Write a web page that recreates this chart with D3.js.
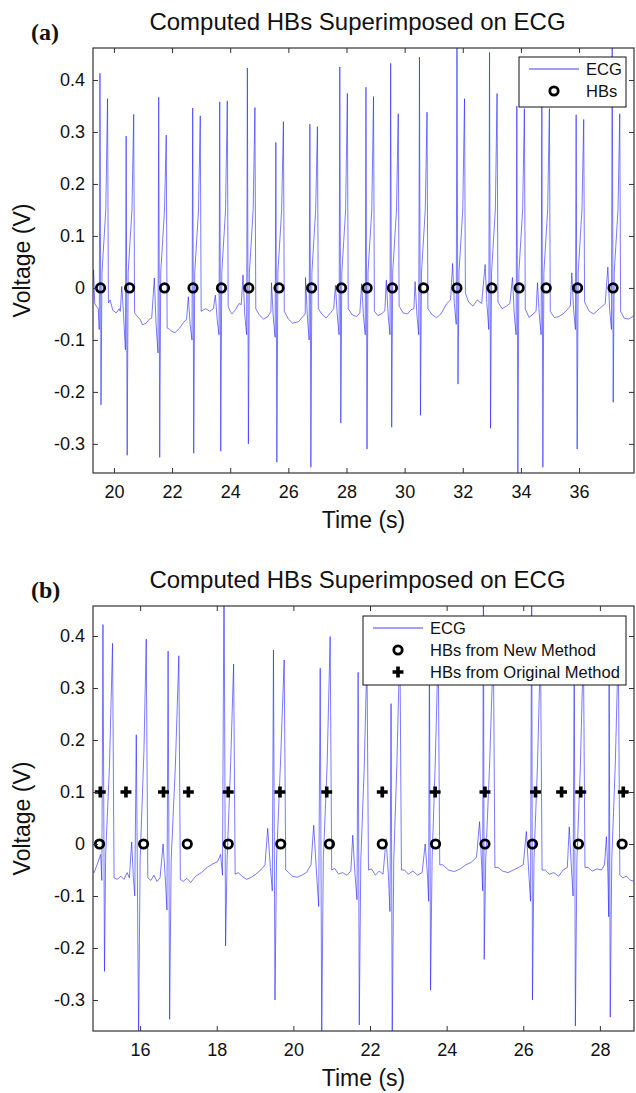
<!DOCTYPE html>
<html>
<head>
<meta charset="utf-8">
<script src="https://cdn.jsdelivr.net/npm/d3@7/dist/d3.min.js"></script>
<style>
  body { margin: 0; background: #fff; }
</style>
</head>
<body>
<div id="chart"></div>
<script>
// -----------------------------------------
//DATA
// -----------------------------------------
var yTicks = [-0.3, -0.2, -0.1, 0, 0.1, 0.2, 0.3, 0.4];
var xTicksA = [20, 22, 24, 26, 28, 30, 32, 34, 36];
var xTicksB = [16, 18, 20, 22, 24, 26, 28];

//panel (a) ECG trace, [time (s), voltage (V)]
var ecgA = [
  [19.20,-0.040],[19.26,-0.030],[19.30,0.035],[19.34,-0.030],[19.40,-0.036],[19.46,-0.040],
  [19.495,-0.080],[19.52,0.413],[19.555,-0.225],[19.59,0.030],[19.72,0.150],[19.78,0.364],[19.81,-0.029],[19.87,-0.023],[19.96,-0.043],[20.08,-0.048],[20.18,-0.040],[20.22,-0.045],
  [20.27,0.003],[20.33,-0.050],[20.395,-0.119],[20.42,0.292],[20.455,-0.322],[20.49,0.030],[20.62,0.150],[20.68,0.334],[20.71,-0.048],[20.80,-0.055],[20.90,-0.060],[20.98,-0.071],[21.10,-0.068],[21.22,-0.060],[21.30,-0.058],
  [21.39,0.019],[21.45,-0.070],[21.515,-0.125],[21.54,0.367],[21.575,-0.326],[21.61,0.030],[21.74,0.150],[21.80,0.294],[21.83,-0.077],[21.92,-0.080],[22.00,-0.084],[22.10,-0.086],[22.25,-0.078],[22.40,-0.066],[22.50,-0.060],
  [22.56,-0.017],[22.62,-0.070],[22.685,-0.100],[22.71,0.346],[22.745,-0.318],[22.78,0.030],[22.91,0.150],[22.97,0.331],[23.00,-0.045],[23.08,-0.042],[23.15,-0.040],[23.30,-0.045],[23.42,-0.040],
  [23.49,-0.014],[23.55,-0.060],[23.615,-0.090],[23.64,0.358],[23.675,-0.314],[23.71,0.030],[23.84,0.150],[23.90,0.360],[23.93,-0.036],[24.00,-0.045],[24.06,-0.050],[24.18,-0.042],[24.30,-0.030],[24.38,-0.032],
  [24.44,0.025],[24.50,-0.050],[24.565,-0.090],[24.59,0.423],[24.625,-0.300],[24.66,0.030],[24.79,0.150],[24.85,0.347],[24.88,-0.040],[25.00,-0.052],[25.15,-0.060],[25.30,-0.055],[25.40,-0.045],
  [25.42,0.010],[25.48,-0.055],[25.545,-0.095],[25.57,0.280],[25.605,-0.335],[25.64,0.030],[25.77,0.150],[25.83,0.320],[25.86,-0.045],[26.00,-0.060],[26.15,-0.068],[26.35,-0.065],[26.50,-0.055],[26.58,-0.050],
  [26.59,0.020],[26.65,-0.050],[26.715,-0.100],[26.74,0.315],[26.775,-0.345],[26.81,0.030],[26.94,0.150],[27.00,0.310],[27.03,-0.040],[27.15,-0.050],[27.30,-0.058],[27.45,-0.048],[27.56,-0.040],
  [27.62,0.005],[27.68,-0.050],[27.745,-0.090],[27.77,0.425],[27.805,-0.260],[27.84,0.030],[27.97,0.150],[28.03,0.374],[28.06,-0.040],[28.20,-0.052],[28.35,-0.055],[28.46,-0.048],
  [28.52,0.008],[28.58,-0.050],[28.645,-0.090],[28.67,0.386],[28.705,-0.310],[28.74,0.030],[28.87,0.150],[28.93,0.368],[28.96,-0.045],[29.08,-0.053],[29.20,-0.050],[29.32,-0.044],
  [29.37,0.015],[29.43,-0.050],[29.495,-0.090],[29.52,0.432],[29.555,-0.268],[29.59,0.030],[29.72,0.150],[29.78,0.335],[29.81,-0.035],[29.95,-0.048],[30.10,-0.050],[30.22,-0.042],[30.32,-0.040],
  [30.36,0.012],[30.42,-0.050],[30.485,-0.090],[30.51,0.444],[30.545,-0.245],[30.58,0.030],[30.71,0.150],[30.77,0.338],[30.80,-0.040],[30.95,-0.052],[31.10,-0.057],[31.25,-0.050],[31.45,-0.030],[31.58,-0.023],
  [31.65,0.047],[31.71,-0.030],[31.775,-0.070],[31.80,0.500],[31.835,-0.185],[31.87,0.030],[32.00,0.150],[32.06,0.364],[32.09,-0.010],[32.20,-0.027],[32.35,-0.035],[32.50,-0.023],[32.65,-0.030],
  [32.77,0.045],[32.83,-0.030],[32.895,-0.080],[32.92,0.453],[32.955,-0.270],[32.99,0.030],[33.12,0.150],[33.18,0.374],[33.21,-0.027],[33.35,-0.040],[33.50,-0.035],[33.62,-0.030],
  [33.71,0.020],[33.77,-0.050],[33.835,-0.090],[33.86,0.350],[33.895,-0.365],[33.93,0.030],[34.06,0.150],[34.12,0.345],[34.15,-0.040],[34.28,-0.057],[34.42,-0.050],[34.52,-0.045],
  [34.57,0.010],[34.63,-0.050],[34.695,-0.090],[34.72,0.348],[34.755,-0.345],[34.79,0.030],[34.92,0.150],[34.98,0.345],[35.01,-0.045],[35.15,-0.057],[35.30,-0.055],[35.45,-0.050],[35.62,-0.040],[35.70,-0.035],
  [35.75,0.029],[35.81,-0.040],[35.875,-0.080],[35.90,0.333],[35.935,-0.310],[35.97,0.030],[36.10,0.150],[36.16,0.324],[36.19,-0.027],[36.35,-0.045],[36.50,-0.050],[36.70,-0.040],[36.90,-0.030],
  [36.99,0.040],[37.05,-0.040],[37.115,-0.080],[37.14,0.500],[37.175,-0.220],[37.21,0.030],[37.34,0.150],[37.40,0.335],[37.43,-0.045],[37.55,-0.058],[37.70,-0.060],[37.85,-0.055],[37.95,-0.050]
];
var hbA = [19.54, 20.54, 21.74, 22.72, 23.70, 24.64, 25.68, 26.80, 27.83, 28.71, 29.58, 30.65, 31.80, 33.00, 33.94, 34.87, 35.95, 37.17];

//panel (b) ECG trace, [time (s), voltage (V)]
var ecgB = [
  [14.70,-0.050],[14.80,-0.055],[14.90,-0.035],[14.97,-0.020],[15.00,-0.070],
  [15.03,0.422],[15.07,-0.245],[15.10,-0.020],[15.20,0.150],[15.28,0.386],[15.32,-0.065],[15.40,-0.068],[15.50,-0.062],[15.58,-0.068],[15.66,-0.055],[15.72,-0.065],[15.78,0.004],[15.82,-0.060],[15.86,-0.100],
  [15.90,0.210],[15.96,-0.370],[16.00,-0.030],[16.10,0.180],[16.16,0.394],[16.20,-0.065],[16.28,-0.070],[16.36,-0.060],[16.44,-0.072],[16.52,-0.065],[16.60,0.000],[16.66,-0.070],[16.70,-0.127],
  [16.73,0.371],[16.77,-0.337],[16.81,-0.030],[16.92,0.150],[17.01,0.362],[17.05,-0.068],[17.12,-0.072],[17.22,-0.066],[17.32,-0.074],[17.45,-0.062],[17.60,-0.055],[17.75,-0.045],[17.90,-0.038],[18.02,-0.034],[18.10,-0.020],[18.15,-0.060],
  [18.19,0.550],[18.23,-0.196],[18.27,-0.030],[18.36,0.150],[18.44,0.346],[18.48,-0.058],[18.56,-0.055],[18.66,-0.062],[18.78,-0.068],[18.90,-0.064],[19.02,-0.058],[19.15,-0.050],[19.26,-0.040],[19.33,0.030],[19.40,-0.045],[19.45,-0.090],
  [19.48,0.373],[19.52,-0.300],[19.56,-0.030],[19.66,0.150],[19.76,0.354],[19.80,-0.050],[19.88,-0.055],[19.98,-0.062],[20.10,-0.064],[20.22,-0.060],[20.34,-0.055],[20.46,-0.040],[20.53,0.036],[20.60,-0.050],[20.66,-0.120],
  [20.70,0.338],[20.74,-0.370],[20.78,-0.030],[20.88,0.150],[20.96,0.399],[21.00,-0.050],[21.08,-0.047],[21.18,-0.058],[21.28,-0.055],[21.40,-0.060],[21.50,-0.052],[21.55,0.017],[21.60,-0.050],[21.66,-0.107],
  [21.69,0.330],[21.72,-0.348],[21.76,-0.030],[21.85,0.150],[21.92,0.360],[21.96,-0.050],[22.04,-0.048],[22.14,-0.060],[22.24,-0.052],[22.34,-0.058],[22.42,0.010],[22.48,-0.060],[22.52,-0.130],
  [22.55,0.270],[22.58,-0.370],[22.62,-0.030],[22.70,0.150],[22.78,0.390],[22.82,-0.050],[22.90,-0.050],[23.00,-0.058],[23.12,-0.052],[23.24,-0.060],[23.36,-0.055],[23.44,0.000],[23.50,-0.060],[23.53,-0.110],
  [23.55,0.370],[23.58,-0.281],[23.62,-0.030],[23.70,0.150],[23.78,0.380],[23.82,-0.040],[23.90,-0.040],[24.05,-0.050],[24.20,-0.053],[24.35,-0.048],[24.50,-0.040],[24.65,-0.035],[24.78,-0.025],[24.86,0.043],[24.92,-0.050],[24.94,-0.090],
  [24.96,0.550],[24.98,-0.222],[25.02,-0.030],[25.12,0.150],[25.22,0.380],[25.26,-0.045],[25.34,-0.045],[25.46,-0.052],[25.60,-0.055],[25.74,-0.050],[25.88,-0.045],[26.00,-0.040],[26.08,0.024],[26.14,-0.050],[26.19,-0.110],
  [26.22,0.550],[26.24,-0.300],[26.28,-0.030],[26.37,0.150],[26.45,0.380],[26.49,-0.050],[26.57,-0.050],[26.68,-0.058],[26.80,-0.055],[26.92,-0.062],[27.04,-0.050],[27.15,-0.045],[27.20,0.033],[27.26,-0.050],[27.30,-0.100],
  [27.33,0.370],[27.36,-0.350],[27.40,-0.030],[27.49,0.150],[27.57,0.380],[27.61,-0.045],[27.69,-0.045],[27.80,-0.052],[27.92,-0.048],[28.04,-0.050],[28.12,-0.040],[28.17,0.014],[28.21,-0.060],[28.23,-0.140],
  [28.24,0.400],[28.27,-0.333],[28.31,-0.030],[28.40,0.150],[28.48,0.380],[28.52,-0.060],[28.60,-0.065],[28.70,-0.062],[28.80,-0.070],[28.92,-0.072]
];
var hbNewB = [14.94, 16.09, 17.23, 18.30, 19.67, 20.94, 22.32, 23.71, 25.00, 26.24, 27.44, 28.58];
var hbOrigB = [14.96, 15.63, 16.61, 17.26, 18.30, 19.65, 20.87, 22.32, 23.70, 25.00, 26.32, 27.00, 27.50, 28.61];

// -----------------------------------------
//FORMAT VARIABLES
// -----------------------------------------
var W = 636, H = 1093;
var fontF = "'Liberation Sans', Arial, sans-serif";
var lineCol = "#2020ff";
var left = 93, right = 634;
var plotH = 425;
var hbR = 4.2, hbSW = 2.8, crossS = 66;

var svg = d3.select("#chart").append("svg")
  .attr("width", W)
  .attr("height", H)
  .style("display", "block");

function drawPanel(p) {
  var g = svg.append("g");
  var x = d3.scaleLinear().domain(p.xDom).range([left, right]);
  var y = d3.scaleLinear().domain(p.yDom).range([p.top + plotH, p.top]);

  //clip the trace to the axes box
  svg.append("clipPath").attr("id", "clip" + p.id)
    .append("rect")
    .attr("x", left).attr("y", p.top)
    .attr("width", right - left).attr("height", plotH);

  //ECG line
  g.append("path")
    .datum(p.ecg)
    .attr("clip-path", "url(#clip" + p.id + ")")
    .attr("fill", "none")
    .attr("stroke", lineCol)
    .attr("stroke-width", 0.75)
    .attr("stroke-opacity", 0.8)
    .attr("stroke-linejoin", "round")
    .attr("d", d3.line().x(function(d){ return x(d[0]); }).y(function(d){ return y(d[1]); }));

  //HB crosses (original method)
  if (p.orig) {
    g.selectAll(".cross" + p.id).data(p.orig).enter().append("path")
      .attr("transform", function(d){ return "translate(" + x(d) + "," + y(0.1) + ")"; })
      .attr("d", d3.symbol().type(d3.symbolCross).size(crossS))
      .attr("fill", "#000");
  }

  //HB circles
  g.selectAll(".hb" + p.id).data(p.hb).enter().append("circle")
    .attr("cx", function(d){ return x(d); })
    .attr("cy", y(0))
    .attr("r", hbR)
    .attr("fill", "none")
    .attr("stroke", "#000")
    .attr("stroke-width", hbSW);

  //axes with inward ticks on all four sides
  var fmt = function(d){ return String(d); };
  var ax = [
    g.append("g").attr("transform", "translate(" + left + ",0)")
      .call(d3.axisLeft(y).tickValues(yTicks).tickSize(-5).tickPadding(8).tickFormat(fmt)),
    g.append("g").attr("transform", "translate(" + right + ",0)")
      .call(d3.axisRight(y).tickValues(yTicks).tickSize(-5).tickFormat("")),
    g.append("g").attr("transform", "translate(0," + (p.top + plotH) + ")")
      .call(d3.axisBottom(x).tickValues(p.xTicks).tickSize(-5).tickPadding(12).tickFormat(fmt)),
    g.append("g").attr("transform", "translate(0," + p.top + ")")
      .call(d3.axisTop(x).tickValues(p.xTicks).tickSize(-5).tickFormat(""))
  ];
  ax.forEach(function(a){
    a.select(".domain").remove();
    a.selectAll("line").attr("stroke", "#333").attr("stroke-width", 1);
    a.selectAll("text").style("font-family", fontF).style("font-size", "18px").attr("fill", "#111");
  });

  g.append("rect")
    .attr("x", left).attr("y", p.top)
    .attr("width", right - left).attr("height", plotH)
    .attr("fill", "none")
    .attr("stroke", "#333")
    .attr("stroke-width", 1.2);

  //title, labels
  g.append("text")
    .attr("x", (left + right) / 2 - 6)
    .attr("y", p.top - 18)
    .attr("text-anchor", "middle")
    .style("font-family", fontF).style("font-size", "24px")
    .attr("fill", "#111")
    .text("Computed HBs Superimposed on ECG");

  g.append("text")
    .attr("x", 31)
    .attr("y", p.top - 8)
    .style("font-family", "'Liberation Serif', 'Times New Roman', serif")
    .style("font-size", "24px").style("font-weight", "bold")
    .attr("fill", "#111")
    .text(p.tag);

  g.append("text")
    .attr("x", (left + right) / 2)
    .attr("y", p.top + plotH + 55)
    .attr("text-anchor", "middle")
    .style("font-family", fontF).style("font-size", "23px")
    .attr("fill", "#111")
    .text("Time (s)");

  g.append("text")
    .attr("transform", "translate(30," + (p.top + plotH / 2) + ") rotate(-90)")
    .attr("text-anchor", "middle")
    .style("font-family", fontF).style("font-size", "23px")
    .attr("fill", "#111")
    .text("Voltage (V)");

  //legend
  var lg = g.append("g");
  lg.append("rect")
    .attr("x", p.leg.x).attr("y", p.leg.y)
    .attr("width", p.leg.w).attr("height", p.leg.h)
    .attr("fill", "#fff").attr("stroke", "#111").attr("stroke-width", 1);
  p.leg.items.forEach(function(it, i){
    var cy = p.leg.y + 12 + i * 22;
    if (it.kind == "line") {
      lg.append("line")
        .attr("x1", p.leg.sx).attr("x2", p.leg.sx + 50)
        .attr("y1", cy).attr("y2", cy)
        .attr("stroke", lineCol).attr("stroke-width", 1).attr("stroke-opacity", 0.85);
    } else if (it.kind == "circle") {
      lg.append("circle")
        .attr("cx", p.leg.sx + 25).attr("cy", cy).attr("r", hbR)
        .attr("fill", "none").attr("stroke", "#000").attr("stroke-width", hbSW);
    } else {
      lg.append("path")
        .attr("transform", "translate(" + (p.leg.sx + 25) + "," + cy + ")")
        .attr("d", d3.symbol().type(d3.symbolCross).size(crossS))
        .attr("fill", "#000");
    }
    lg.append("text")
      .attr("x", p.leg.tx).attr("y", cy)
      .attr("dy", "0.35em")
      .style("font-family", fontF).style("font-size", "16.5px")
      .attr("fill", "#111")
      .text(it.label);
  });
}

// -----------------------------------------
//PANEL (a)
// -----------------------------------------
drawPanel({
  id: "a", tag: "(a)", top: 48,
  xDom: [19.28, 37.89], yDom: [-0.356, 0.4615],
  xTicks: xTicksA, ecg: ecgA, hb: hbA,
  leg: { x: 519, y: 57, w: 107, h: 50, sx: 529, tx: 586,
    items: [{kind: "line", label: "ECG"}, {kind: "circle", label: "HBs"}] }
});

// -----------------------------------------
//PANEL (b)
// -----------------------------------------
drawPanel({
  id: "b", tag: "(b)", top: 606,
  xDom: [14.77, 28.89], yDom: [-0.3596, 0.4577],
  xTicks: xTicksB, ecg: ecgB, hb: hbNewB, orig: hbOrigB,
  leg: { x: 363, y: 616, w: 263, h: 69, sx: 373, tx: 430,
    items: [{kind: "line", label: "ECG"}, {kind: "circle", label: "HBs from New Method"}, {kind: "cross", label: "HBs from Original Method"}] }
});
</script>
</body>
</html>
